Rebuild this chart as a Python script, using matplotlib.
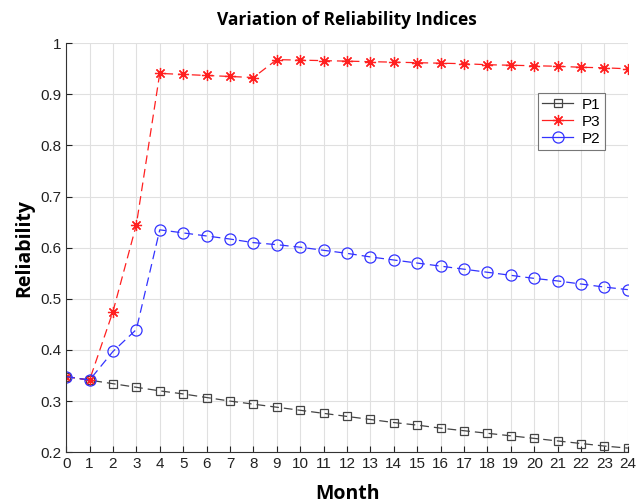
import matplotlib
matplotlib.use('Agg')
import matplotlib.pyplot as plt
from matplotlib.lines import Line2D

# Months and reliability values
months = list(range(25))
p1 = [0.348, 0.341, 0.334, 0.327, 0.320, 0.314, 0.307, 0.300, 0.294, 0.288,
      0.282, 0.276, 0.270, 0.264, 0.258, 0.253, 0.247, 0.242, 0.237, 0.232,
      0.227, 0.222, 0.217, 0.212, 0.208]
p3 = [0.348, 0.341, 0.475, 0.645, 0.941, 0.939, 0.937, 0.935, 0.933, 0.968,
      0.967, 0.966, 0.965, 0.964, 0.963, 0.962, 0.961, 0.960, 0.958, 0.957,
      0.956, 0.955, 0.953, 0.952, 0.950]
p2 = [0.348, 0.341, 0.397, 0.440, 0.635, 0.629, 0.623, 0.617, 0.610, 0.606,
      0.601, 0.595, 0.589, 0.582, 0.576, 0.570, 0.564, 0.558, 0.552, 0.546,
      0.540, 0.535, 0.529, 0.523, 0.518]
y_ticks = [0.2, 0.3, 0.4, 0.5, 0.6, 0.7, 0.8, 0.9, 1.0]
y_labels = ['0.2', '0.3', '0.4', '0.5', '0.6', '0.7', '0.8', '0.9', '1']

plt.rcParams['font.family'] = ['Liberation Sans', 'DejaVu Sans']

fig = plt.figure(figsize=(6.42, 5.03), dpi=100)
ax = fig.add_axes([0.103, 0.101, 0.875, 0.813])

dash = (0, (7, 4))
# series styles: colour, marker, size, face
styles = [
    ('P1', p1, '#444444', 's', 6, 'none'),
    ('P3', p3, '#ff2020', (8, 2, 0), 8, '#ff2020'),
    ('P2', p2, '#3333ff', 'o', 8, 'none'),
]
handles = []
for name, vals, col, mk, ms, mfc in styles:
    ax.plot(months, vals, color=col, linestyle=dash, linewidth=0.9,
            marker=mk, markersize=ms, markerfacecolor=mfc,
            markeredgewidth=0.9)
    # solid line in the legend, like the reference
    handles.append(Line2D([], [], color=col, linestyle='-', linewidth=0.9,
                          marker=mk, markersize=ms, markerfacecolor=mfc,
                          markeredgewidth=0.9, label=name))

ax.set_xlim(0, 24)
ax.set_ylim(0.2, 1.0)
ax.set_xticks(months)
ax.set_yticks(y_ticks)
ax.set_yticklabels(y_labels)
ax.tick_params(direction='in', length=4, labelsize=11, colors='#222222')
ax.grid(True, color='#e0e0e0', linewidth=0.8)
ax.set_axisbelow(True)
for side in ['top', 'right']:
    ax.spines[side].set_visible(False)
for side in ['left', 'bottom']:
    ax.spines[side].set_color('#333333')
    ax.spines[side].set_linewidth(0.8)

ax.set_title('Variation of Reliability Indices', fontsize=12.5,
             fontweight='bold', family=['Open Sans', 'DejaVu Sans'], pad=13)
ax.set_xlabel('Month', fontsize=14, fontweight='bold',
              family=['Open Sans', 'DejaVu Sans'], labelpad=9)
ax.set_ylabel('Reliability', fontsize=14, fontweight='bold',
              family=['Open Sans', 'DejaVu Sans'], labelpad=4)

leg = ax.legend(handles=handles, loc='upper left',
                bbox_to_anchor=(0.826, 0.897), fontsize=11,
                frameon=True, fancybox=False, handlelength=2.0,
                borderpad=0.3, labelspacing=0.2, handletextpad=0.6)
leg.get_frame().set_edgecolor('#555555')
leg.get_frame().set_linewidth(0.8)

fig.savefig('out.png', dpi=100)
